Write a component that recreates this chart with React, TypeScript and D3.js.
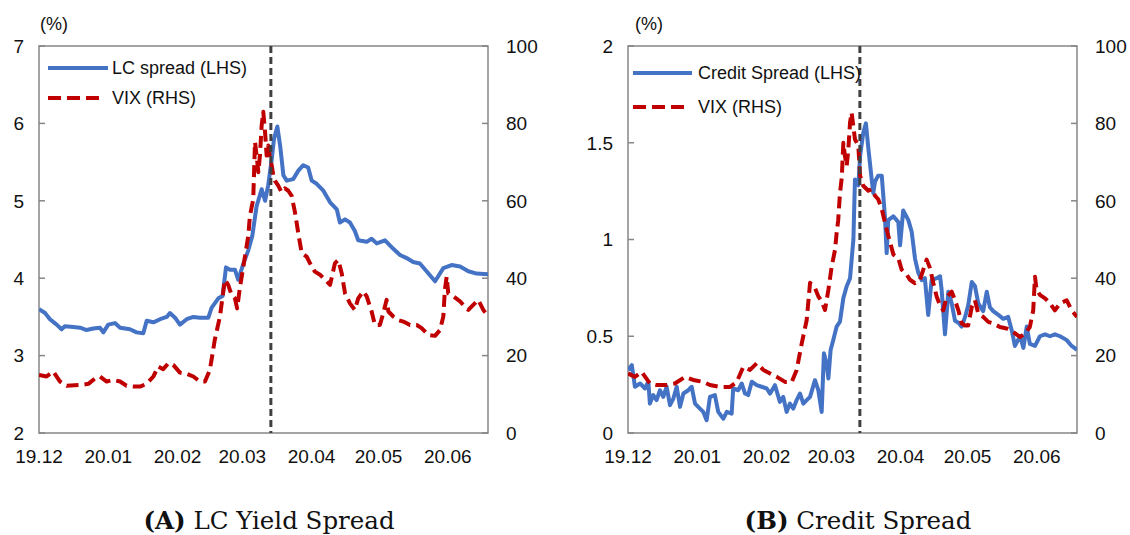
import React from 'react';
import * as d3 from 'd3';

// ---- shared axis data ----
const monthTickDays = [0, 31, 62, 91, 122, 152, 183];
const monthTickLabels = ['19.12', '20.01', '20.02', '20.03', '20.04', '20.05', '20.06'];
const lastDay = 201; // days after 2019-12-01
const eventDay = 103.8;
const rhsTicks = [0, 20, 40, 60, 80, 100];

// ---- Panel A: LC yield spread ----
const lhsTicksA = [2, 3, 4, 5, 6, 7];
const lcDays = [0, 2.7, 4.9, 7.9, 10.1, 11.6, 15.4, 18.4, 21.3, 24.3, 27.3, 28.8, 31, 34, 36.3, 40.7, 43.7, 46.7, 48.2, 51.2, 54.2, 57.2, 58.6, 60.9, 63.1, 66.1, 69.1, 72.1, 75.8, 77.3, 80.3, 82.2, 83.7, 85.5, 87.7, 89.2, 91.5, 93.7, 95.5, 97.4, 99.7, 101.2, 102.6, 104.2, 105.2, 106.7, 108, 109.4, 110.9, 113.8, 116.1, 118.3, 120.5, 122.1, 124.3, 127.3, 130.3, 133.3, 134.7, 137, 139.2, 141.4, 142.9, 146.7, 148.9, 151.2, 154.9, 158.6, 161.6, 164.6, 167.5, 170.5, 173.5, 177.3, 181, 184.7, 188.5, 192.2, 195.9, 201];
const lcSpread = [3.60, 3.55, 3.47, 3.40, 3.34, 3.38, 3.37, 3.36, 3.33, 3.35, 3.36, 3.30, 3.40, 3.42, 3.36, 3.34, 3.30, 3.29, 3.45, 3.43, 3.47, 3.50, 3.55, 3.49, 3.40, 3.47, 3.50, 3.49, 3.49, 3.62, 3.74, 3.77, 4.14, 4.11, 4.11, 3.98, 4.19, 4.36, 4.55, 4.93, 5.15, 5.00, 5.20, 5.54, 5.80, 5.96, 5.70, 5.33, 5.26, 5.28, 5.39, 5.46, 5.43, 5.26, 5.22, 5.13, 4.98, 4.89, 4.72, 4.76, 4.72, 4.61, 4.49, 4.47, 4.51, 4.45, 4.49, 4.38, 4.30, 4.26, 4.21, 4.19, 4.09, 3.96, 4.13, 4.17, 4.15, 4.09, 4.06, 4.05];
const vixADays = [0, 3.4, 6.4, 9.4, 12.4, 18.4, 22.1, 25.1, 27.3, 30.3, 33.3, 36.3, 39.2, 42.2, 45.2, 48.2, 51.2, 53.4, 55.6, 57.9, 60.1, 63.1, 66.1, 69.1, 72, 74.3, 76.5, 78.7, 81, 83.2, 84.7, 86.2, 87.7, 88.7, 89.9, 92.2, 93.7, 94.4, 95.9, 96.7, 97.4, 98.2, 98.9, 99.7, 100.4, 101.2, 101.9, 102.6, 103.4, 104.2, 104.9, 105.6, 107.1, 108.6, 110.1, 111.6, 113.1, 114.6, 116.1, 117.6, 119.8, 122.1, 123.5, 125.8, 128, 130.3, 132.5, 134, 135.5, 137, 139.2, 141.4, 142.9, 145.2, 146.7, 148.9, 150.4, 152.6, 154.1, 155.6, 156.4, 158.6, 160.8, 163.1, 166.1, 169.1, 171.3, 174.3, 177.3, 179.5, 181, 181.7, 182.5, 183.2, 185.5, 188.5, 189.9, 192.2, 194.4, 196.6, 198.9, 201];
const vixA = [15.0, 14.6, 15.9, 13.3, 12.2, 12.4, 12.7, 14.1, 14.6, 13.3, 13.7, 13.3, 12.2, 12.0, 12.0, 12.7, 14.6, 17.2, 16.5, 18.0, 17.6, 15.6, 15.3, 14.6, 13.3, 13.3, 16.3, 24.1, 30.1, 39.6, 38.3, 35.7, 34.8, 32.2, 37.4, 45.6, 51.0, 56.0, 60.4, 75.2, 71.7, 67.4, 71.7, 79.6, 83.0, 77.8, 71.7, 74.3, 70.9, 69.1, 66.5, 65.2, 63.9, 62.2, 63.2, 62.6, 61.3, 57.0, 51.5, 46.5, 45.6, 43.0, 41.7, 40.9, 39.6, 38.3, 43.9, 44.7, 41.3, 36.1, 33.5, 31.8, 34.8, 36.6, 35.3, 31.4, 27.9, 27.9, 30.9, 34.4, 31.4, 30.1, 29.2, 28.8, 27.9, 27.9, 27.1, 25.3, 25.1, 26.6, 30.1, 37.0, 40.4, 36.1, 35.3, 34.0, 33.1, 31.8, 33.1, 34.4, 31.8, 30.1];

// ---- Panel B: Credit spread ----
const lhsTicksB = [0, 0.5, 1, 1.5, 2];
const creditDays = [0, 1.7, 3.1, 5.4, 7.6, 9.1, 9.8, 11.3, 12.8, 14.3, 15.8, 17.3, 18.8, 20.3, 21.8, 23.3, 24.8, 27, 28.5, 30, 32.2, 33.7, 35.2, 36.7, 38.9, 40.4, 42.7, 44.2, 46.4, 47.1, 49.4, 50.9, 52.4, 53.8, 55.4, 57.6, 59.8, 62.1, 63.6, 65.8, 68, 69.5, 71, 72.5, 74, 75.5, 77, 78.5, 80, 81.5, 83.7, 85.2, 86.7, 87.7, 88.9, 89.7, 90.7, 91.9, 93.4, 94.9, 96.4, 97.9, 99.4, 100.9, 101.6, 103.1, 103.9, 105.3, 106.5, 107.6, 109.1, 109.8, 110.6, 112, 113.6, 115, 115.8, 116.5, 118.8, 121, 121.8, 123.2, 125.5, 127, 128.5, 129.9, 131.5, 132.9, 134.4, 135.9, 138.2, 139.7, 140.4, 141.9, 143.4, 144.9, 146.4, 147.9, 149.4, 150.9, 152.3, 153.9, 155.3, 156.8, 159, 160.6, 162, 163.5, 165.8, 168, 170.2, 171.8, 173.2, 175.5, 177, 178.5, 179.9, 182.2, 184.4, 186.7, 188.9, 191.1, 193.4, 196.4, 198.6, 201];
const creditSpread = [0.325, 0.351, 0.239, 0.256, 0.23, 0.265, 0.152, 0.196, 0.17, 0.221, 0.187, 0.239, 0.144, 0.178, 0.239, 0.135, 0.204, 0.221, 0.239, 0.152, 0.126, 0.109, 0.066, 0.187, 0.196, 0.109, 0.074, 0.109, 0.10, 0.23, 0.221, 0.256, 0.204, 0.196, 0.265, 0.247, 0.239, 0.23, 0.204, 0.247, 0.161, 0.187, 0.109, 0.152, 0.126, 0.17, 0.204, 0.152, 0.17, 0.187, 0.273, 0.221, 0.109, 0.412, 0.36, 0.282, 0.429, 0.481, 0.55, 0.576, 0.697, 0.758, 0.80, 1.0, 1.31, 1.28, 1.43, 1.55, 1.60, 1.47, 1.31, 1.24, 1.30, 1.33, 1.33, 1.12, 0.93, 1.10, 1.12, 1.09, 0.97, 1.15, 1.10, 1.04, 0.90, 0.83, 0.79, 0.80, 0.61, 0.79, 0.80, 0.81, 0.74, 0.51, 0.73, 0.67, 0.58, 0.57, 0.55, 0.60, 0.66, 0.78, 0.76, 0.67, 0.63, 0.73, 0.65, 0.63, 0.61, 0.59, 0.60, 0.53, 0.45, 0.50, 0.44, 0.55, 0.46, 0.45, 0.50, 0.51, 0.50, 0.51, 0.50, 0.48, 0.45, 0.43];
const vixBDays = [0, 3.1, 6.1, 9.8, 12.8, 17.3, 21, 25.5, 29.2, 33.7, 36.7, 41.2, 45.7, 48.7, 51.6, 54.6, 57.6, 60.6, 63.6, 66.6, 70.3, 73.3, 75.5, 77.8, 80, 81.5, 83.7, 85.2, 86.7, 88.2, 89.7, 91.2, 92.7, 93.4, 94.1, 94.9, 95.7, 96.4, 97.1, 97.9, 98.6, 99.4, 100.1, 101.6, 103.1, 103.9, 105.3, 107.6, 109.1, 110.6, 112, 113.6, 115, 116.5, 118.8, 121, 122.5, 124.8, 126.2, 128.5, 130.7, 132.2, 133.7, 135.2, 136.7, 138.2, 139.7, 141.1, 142.7, 144.9, 146.4, 147.9, 149.4, 150.9, 152.3, 153.9, 155.3, 156.8, 159, 161.3, 163.5, 166.5, 169.5, 172.5, 175.5, 177.7, 179.9, 181.4, 182.2, 182.9, 184.4, 186.7, 188.9, 191.1, 193.4, 196.4, 198.6, 201];
const vixB = [15.4, 14.5, 15.8, 12.8, 12.4, 12.4, 12.8, 14.5, 13.7, 13.2, 12.4, 11.9, 11.9, 13.2, 17.1, 16.3, 18.0, 16.3, 15.4, 14.5, 13.2, 13.2, 16.3, 23.2, 29.2, 38.8, 37.5, 35.3, 34.0, 31.8, 37.0, 43.1, 47.4, 51.7, 55.0, 62.0, 66.0, 75.0, 71.6, 69.0, 73.0, 80.2, 82.8, 75.9, 74.2, 66.5, 63.9, 62.6, 63.0, 61.3, 60.4, 57.9, 54.4, 51.0, 46.1, 45.2, 42.2, 40.9, 39.6, 38.7, 39.6, 42.2, 44.8, 42.6, 38.7, 35.2, 33.0, 31.7, 35.2, 36.5, 34.3, 31.7, 28.3, 27.8, 27.8, 32.6, 34.3, 30.9, 30.0, 28.7, 28.3, 27.4, 27.0, 26.1, 24.8, 25.7, 27.4, 31.7, 40.4, 37.0, 35.7, 34.8, 33.5, 31.7, 33.5, 34.3, 31.7, 30.0];

const BLUE = '#4472C4';
const RED = '#C00000';
const FRAME = '#868686';
const SANS = '"Liberation Sans", Arial, sans-serif';
const SERIF = '"DejaVu Serif", "Liberation Serif", serif';

const TOP = 46;
const BOTTOM = 433;
const WIDTH = 449;

type PanelProps = {
  id: string;
  left: number;
  lhsTicks: number[];
  spreadDays: number[];
  spreadValues: number[];
  vixDays: number[];
  vixValues: number[];
  spreadLabel: string;
  pctX: number;
  legendX0: number;
  legendX1: number;
  legendTextX: number;
  legendY1: number;
  legendY2: number;
  captionX: number;
  captionTag: string;
  captionText: string;
};

function Panel(p: PanelProps) {
  const right = p.left + WIDTH;
  const x = d3.scaleLinear().domain([0, lastDay]).range([p.left, right]);
  const yL = d3
    .scaleLinear()
    .domain([p.lhsTicks[0], p.lhsTicks[p.lhsTicks.length - 1]])
    .range([BOTTOM, TOP]);
  const yR = d3.scaleLinear().domain([0, 100]).range([BOTTOM, TOP]);

  const spreadPts = d3.zip(p.spreadDays, p.spreadValues) as [number, number][];
  const vixPts = d3.zip(p.vixDays, p.vixValues) as [number, number][];
  const spreadLine = d3
    .line<[number, number]>()
    .x((d) => x(d[0]))
    .y((d) => yL(d[1]));
  const vixLine = d3
    .line<[number, number]>()
    .x((d) => x(d[0]))
    .y((d) => yR(d[1]));

  const clipId = `clip-${p.id}`;
  const fmt = (v: number) => String(v);

  return (
    <g>
      <defs>
        <clipPath id={clipId}>
          <rect x={p.left} y={TOP - 2} width={WIDTH} height={BOTTOM - TOP + 2} />
        </clipPath>
      </defs>
      {/* frame */}
      <rect x={p.left} y={TOP} width={WIDTH} height={BOTTOM - TOP} fill="none" stroke={FRAME} strokeWidth={1.5} />
      {/* left ticks & labels */}
      {p.lhsTicks.map((t) => (
        <g key={`l${t}`}>
          <line x1={p.left} x2={p.left + 6} y1={yL(t)} y2={yL(t)} stroke={FRAME} strokeWidth={1.5} />
          <text x={p.left - 15} y={yL(t)} dy="0.36em" textAnchor="end" fontFamily={SANS} fontSize={19} fill="#111">
            {fmt(t)}
          </text>
        </g>
      ))}
      {/* right ticks & labels */}
      {rhsTicks.map((t) => (
        <g key={`r${t}`}>
          <line x1={right - 6} x2={right} y1={yR(t)} y2={yR(t)} stroke={FRAME} strokeWidth={1.5} />
          <text x={right + 18} y={yR(t)} dy="0.36em" textAnchor="start" fontFamily={SANS} fontSize={19} fill="#111">
            {t}
          </text>
        </g>
      ))}
      {/* x labels */}
      {monthTickDays.map((d, i) => (
        <text key={`x${d}`} x={x(d)} y={463} textAnchor="middle" fontFamily={SANS} fontSize={19} fill="#111">
          {monthTickLabels[i]}
        </text>
      ))}
      <text x={p.pctX} y={30} fontFamily={SANS} fontSize={18} fill="#111">
        (%)
      </text>
      {/* series */}
      <g clipPath={`url(#${clipId})`}>
        <path d={spreadLine(spreadPts) || ''} fill="none" stroke={BLUE} strokeWidth={4} strokeLinejoin="round" />
        <path
          d={vixLine(vixPts) || ''}
          fill="none"
          stroke={RED}
          strokeWidth={4}
          strokeDasharray="12,6"
          strokeLinejoin="round"
        />
      </g>
      {/* event line */}
      <line
        x1={x(eventDay)}
        x2={x(eventDay)}
        y1={TOP}
        y2={BOTTOM}
        stroke="#404040"
        strokeWidth={3}
        strokeDasharray="7,4"
      />
      {/* legend */}
      <line x1={p.legendX0} x2={p.legendX1} y1={p.legendY1} y2={p.legendY1} stroke={BLUE} strokeWidth={4} />
      <text x={p.legendTextX} y={p.legendY1} dy="0.36em" fontFamily={SANS} fontSize={18} fill="#111">
        {p.spreadLabel}
      </text>
      <line
        x1={p.legendX0}
        x2={p.legendX1 - 6}
        y1={p.legendY2}
        y2={p.legendY2}
        stroke={RED}
        strokeWidth={4}
        strokeDasharray="13,6"
      />
      <text x={p.legendTextX} y={p.legendY2} dy="0.36em" fontFamily={SANS} fontSize={18} fill="#111">
        VIX (RHS)
      </text>
      {/* caption */}
      <text x={p.captionX} y={529} textAnchor="middle" fontFamily={SERIF} fontSize={24.5} fill="#111">
        <tspan fontWeight="bold">{p.captionTag}</tspan>
        <tspan> {p.captionText}</tspan>
      </text>
    </g>
  );
}

export default function App() {
  return (
    <svg
      width={1130}
      height={535}
      viewBox="0 0 1130 535"
      style={{ position: 'absolute', left: 0, top: 0, background: '#fff' }}
    >
      <rect width={1130} height={535} fill="#fff" />
      <Panel
        id="a"
        left={39}
        lhsTicks={lhsTicksA}
        spreadDays={lcDays}
        spreadValues={lcSpread}
        vixDays={vixADays}
        vixValues={vixA}
        spreadLabel="LC spread (LHS)"
        pctX={40}
        legendX0={48}
        legendX1={108}
        legendTextX={112}
        legendY1={68}
        legendY2={98}
        captionX={269}
        captionTag="(A)"
        captionText="LC Yield Spread"
      />
      <Panel
        id="b"
        left={628}
        lhsTicks={lhsTicksB}
        spreadDays={creditDays}
        spreadValues={creditSpread}
        vixDays={vixBDays}
        vixValues={vixB}
        spreadLabel="Credit Spread (LHS)"
        pctX={635}
        legendX0={633}
        legendX1={692}
        legendTextX={698}
        legendY1={73}
        legendY2={107}
        captionX={858}
        captionTag="(B)"
        captionText="Credit Spread"
      />
    </svg>
  );
}
